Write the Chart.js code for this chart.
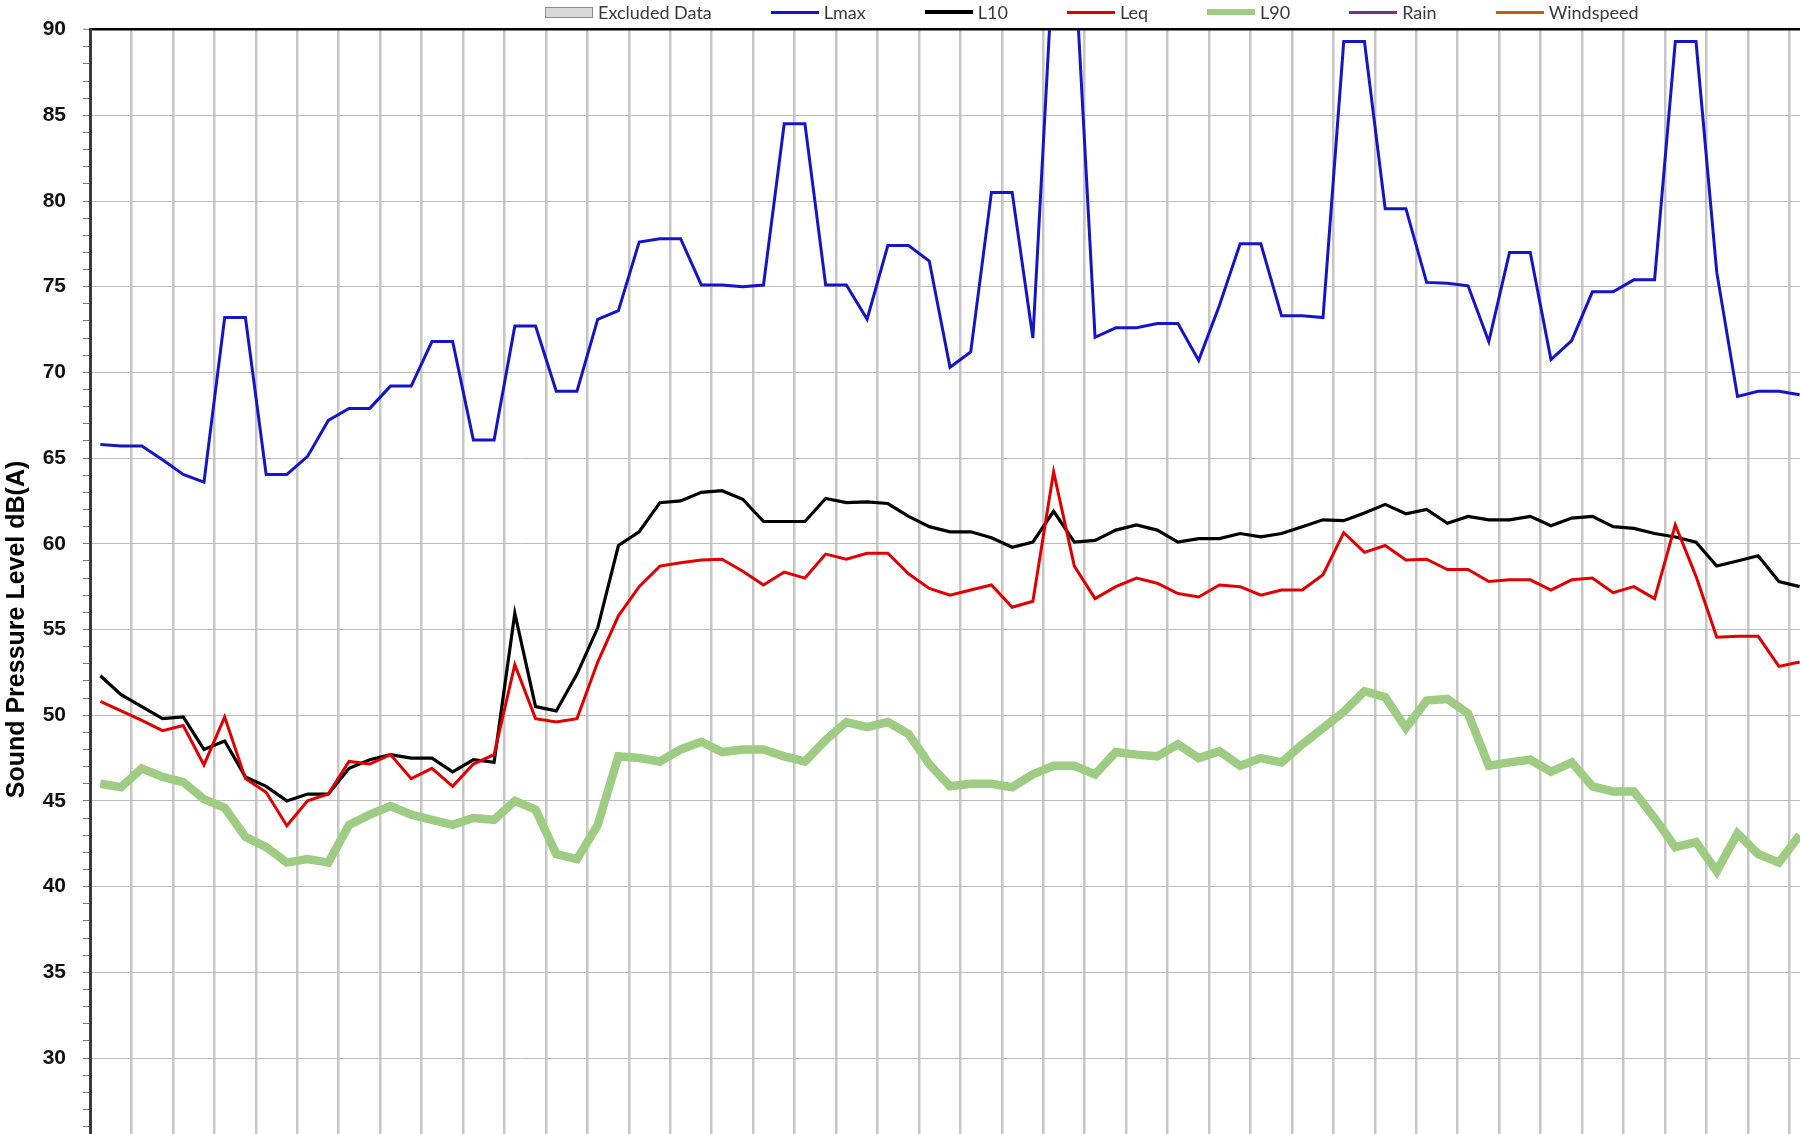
<!DOCTYPE html>
<html>
<head>
<meta charset="utf-8">
<title>Sound Pressure Level</title>
<script src="https://cdn.jsdelivr.net/npm/chart.js@4.4.1/dist/chart.umd.min.js"></script>
<style>
  html, body { margin: 0; padding: 0; background: #fff; overflow: hidden; }
  body { width: 1800px; height: 1134px; position: relative; }
  .chartWrap { position: absolute; left: 0; top: 0; width: 1810px; height: 1259px; }
  .legendRow {
    position: absolute; left: 545px; top: 2px; height: 20px;
    display: flex; align-items: center; gap: 59px;
    font-family: Lato, "Open Sans", sans-serif; font-size: 18px; color: #3a3a3a;
    z-index: 2;
  }
  .legendItem { display: flex; align-items: center; white-space: nowrap; }
  .legendLine { display: inline-block; width: 48px; margin-right: 5px; }
  .legendBox { display: inline-block; width: 46px; height: 9px; margin-right: 5px; }
</style>
</head>
<body>
<div class="legendRow" id="legend"></div>
<div class="chartWrap"><canvas id="chart"></canvas></div>
<script>
// 15-minute intervals visible in the picture (x labels are not shown)
const lmax = [
  65.8, 65.7, 65.7, 64.9, 64.05, 63.6, 73.2, 73.2, 64.05, 64.05,
  65.1, 67.2, 67.9, 67.9, 69.2, 69.2, 71.8, 71.8, 66.05, 66.05,
  72.7, 72.7, 68.9, 68.9, 73.1, 73.6, 77.6, 77.8, 77.8, 75.1,
  75.1, 75.0, 75.1, 84.5, 84.5, 75.1, 75.1, 73.1, 77.4, 77.4,
  76.5, 70.3, 71.2, 80.5, 80.5, 72.0, 94.5, 94.5, 72.05, 72.6,
  72.6, 72.85, 72.85, 70.7, 73.9, 77.5, 77.5, 73.3, 73.3, 73.2,
  89.3, 89.3, 79.55, 79.55, 75.25, 75.2, 75.05, 71.8, 77.0, 77.0,
  70.75, 71.85, 74.7, 74.7, 75.4, 75.4, 89.3, 89.3, 75.85, 68.6,
  68.9, 68.9, 68.7
];
const l10 = [
  52.3, 51.2, 50.5, 49.8, 49.9, 48.0, 48.5, 46.4, 45.85, 45.0,
  45.4, 45.4, 46.9, 47.4, 47.7, 47.5, 47.5, 46.7, 47.4, 47.25,
  55.95, 50.5, 50.25, 52.4, 55.1, 59.9, 60.7, 62.4, 62.5, 63.0,
  63.1, 62.6, 61.3, 61.3, 61.3, 62.65, 62.4, 62.45, 62.35, 61.6,
  61.0, 60.7, 60.7, 60.35, 59.8, 60.1, 61.9, 60.1, 60.2, 60.8,
  61.1, 60.8, 60.1, 60.3, 60.3, 60.6, 60.4, 60.6, 61.0, 61.4,
  61.35, 61.8, 62.3, 61.75, 62.0, 61.2, 61.6, 61.4, 61.4, 61.6,
  61.05, 61.5, 61.6, 61.0, 60.9, 60.6, 60.4, 60.1, 58.7, 59.0,
  59.3, 57.8, 57.5
];
const leq = [
  50.8, 50.25, 49.7, 49.1, 49.4, 47.1, 49.9, 46.3, 45.5, 43.55,
  45.0, 45.4, 47.3, 47.15, 47.7, 46.3, 46.9, 45.85, 47.15, 47.7,
  52.95, 49.8, 49.6, 49.8, 53.1, 55.8, 57.5, 58.7, 58.9, 59.05,
  59.1, 58.4, 57.6, 58.35, 58.0, 59.4, 59.1, 59.45, 59.45, 58.25,
  57.4, 57.0, 57.3, 57.6, 56.3, 56.65, 64.2, 58.7, 56.8, 57.5,
  58.0, 57.7, 57.1, 56.9, 57.6, 57.5, 57.0, 57.3, 57.3, 58.2,
  60.65, 59.5, 59.9, 59.05, 59.1, 58.5, 58.5, 57.8, 57.9, 57.9,
  57.3, 57.9, 58.0, 57.15, 57.5, 56.8, 61.1, 58.1, 54.55, 54.6,
  54.6, 52.85, 53.1
];
const l90 = [
  46.0, 45.8, 46.9, 46.4, 46.1, 45.1, 44.6, 42.9, 42.3, 41.4,
  41.6, 41.4, 43.6, 44.2, 44.7, 44.2, 43.9, 43.6, 44.0, 43.9,
  45.0, 44.5, 41.9, 41.6, 43.6, 47.6, 47.5, 47.3, 48.0, 48.45,
  47.85, 48.0, 48.0, 47.6, 47.3, 48.55, 49.6, 49.3, 49.6, 48.9,
  47.15, 45.85, 46.0, 46.0, 45.8, 46.55, 47.05, 47.05, 46.55, 47.85,
  47.7, 47.6, 48.3, 47.5, 47.9, 47.05, 47.5, 47.25, 48.3, 49.25,
  50.2, 51.4, 51.05, 49.25, 50.85, 50.95, 50.1, 47.05, 47.25, 47.4,
  46.7, 47.25, 45.85, 45.55, 45.55, 44.0, 42.3, 42.6, 40.9, 43.1,
  41.9, 41.4, 43.0
];
// no values for these are visible in the picture
const excluded = [];
const rain = [];
const windspeed = [];

const intervals = lmax.map((_, i) => String(i + 1));

const Y_MIN = 20;
const Y_MAX = 90;

const datasets = [
  { type: "bar", label: "Excluded Data", data: excluded,
    backgroundColor: "#d9d9d9", borderColor: "#8c8c8c", borderWidth: 1 },
  { label: "Lmax", data: lmax, borderColor: "#1515c8", borderWidth: 3 },
  { label: "L10", data: l10, borderColor: "#000000", borderWidth: 3.2 },
  { label: "Leq", data: leq, borderColor: "#e10000", borderWidth: 3 },
  { label: "L90", data: l90, borderColor: "#9dcc82", borderWidth: 8.5 },
  { label: "Rain", data: rain, borderColor: "#7030a0", borderWidth: 3 },
  { label: "Windspeed", data: windspeed, borderColor: "#c55a11", borderWidth: 3 },
].map((ds, i) => ({
  pointRadius: 0,
  tension: 0,
  fill: false,
  clip: 0,
  order: -i, // later series drawn on top, like the spreadsheet
  ...ds,
}));

const chart = new Chart(document.getElementById("chart"), {
  type: "line",
  data: { labels: intervals, datasets },
  options: {
    responsive: true,
    maintainAspectRatio: false,
    animation: false,
    layout: { padding: { top: 22, right: 0, bottom: 1, left: 0 } },
    plugins: {
      legend: { display: false },
      tooltip: { enabled: false },
    },
    scales: {
      x: {
        type: "category",
        offset: true,
        border: { display: false },
        ticks: { display: false, autoSkip: false },
        grid: {
          offset: true,
          drawTicks: false,
          lineWidth: 2.5,
          // a line every two intervals
          color: (ctx) => (ctx.index % 2 === 0 ? "#c6c6c6" : "rgba(0,0,0,0)"),
        },
      },
      y: {
        min: Y_MIN,
        max: Y_MAX,
        afterFit: (scale) => { scale.width = 90; },
        border: { display: true, color: "#3a3a3a", width: 3 },
        title: {
          display: true,
          text: "Sound Pressure Level dB(A)",
          color: "#000",
          font: { family: "Liberation Sans", size: 25, weight: "bold" },
          padding: { top: 2, bottom: 0 },
        },
        ticks: {
          stepSize: 1,
          autoSkip: false,
          padding: 17,
          color: "#111",
          font: { family: "Liberation Sans", size: 21, weight: "bold" },
          callback: (v) => (v % 5 === 0 ? String(v) : ""),
        },
        grid: {
          tickLength: 7,
          tickWidth: 1,
          tickColor: "#7a7a7a",
          lineWidth: (ctx) => (ctx.tick && ctx.tick.value === Y_MAX ? 2.5 : 1),
          color: (ctx) => {
            const v = ctx.tick ? ctx.tick.value : 0;
            if (v === Y_MAX) return "#000";
            return v % 5 === 0 ? "#bcbcbc" : "rgba(0,0,0,0)";
          },
        },
      },
    },
  },
});

// Legend row, built from the datasets
const legendEl = document.getElementById("legend");
chart.data.datasets.forEach((ds) => {
  const item = document.createElement("div");
  item.className = "legendItem";
  const sym = document.createElement("span");
  if (ds.type === "bar") {
    sym.className = "legendBox";
    sym.style.background = ds.backgroundColor;
    sym.style.border = "1px solid " + ds.borderColor;
  } else {
    sym.className = "legendLine";
    sym.style.height = Math.min(ds.borderWidth, 6) + "px";
    sym.style.background = ds.borderColor;
  }
  const txt = document.createElement("span");
  txt.textContent = ds.label;
  item.appendChild(sym);
  item.appendChild(txt);
  legendEl.appendChild(item);
});
</script>
</body>
</html>
